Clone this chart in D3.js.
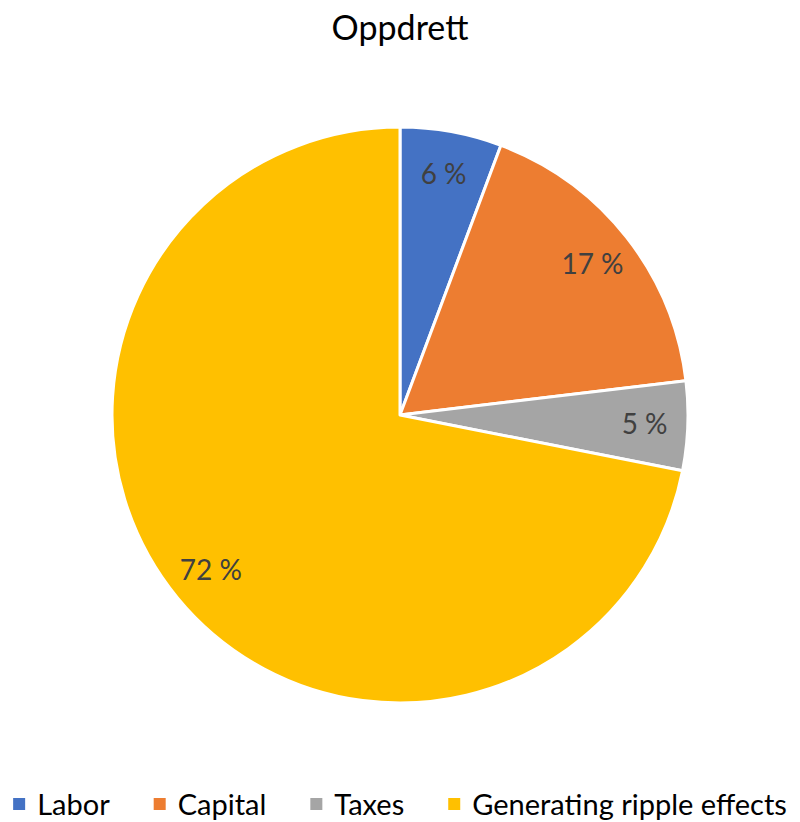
<!DOCTYPE html>
<html lang="en">
<head>
  <meta charset="UTF-8" />
  <title>Oppdrett</title>
  <style>
    body { margin: 0; background: #fff; font-family: Lato, "Open Sans", sans-serif; }
  </style>
</head>
<body>
  <div id="chart"></div>

  <script src="https://cdnjs.cloudflare.com/ajax/libs/d3/7.8.4/d3.min.js"></script>
  <script>
    const categories = ["Labor", "Capital", "Taxes", "Generating ripple effects"];
    const shares = [5.7, 17.4, 5.0, 71.9];
    const colors = ["#4472c4", "#ed7d31", "#a5a5a5", "#ffc000"];

    const width = 800, height = 822;
    const cx = 400, cy = 415, radius = 288;

    const svg = d3.select("#chart").append("svg")
      .attr("width", width).attr("height", height);

    svg.append("text")
      .attr("x", width / 2).attr("y", 40)
      .attr("text-anchor", "middle")
      .attr("font-size", 34)
      .attr("fill", "#000")
      .text("Oppdrett");

    const data = categories.map((c, i) => ({ name: c, value: shares[i], color: colors[i] }));

    const pie = d3.pie().value(d => d.value).sort(null);
    const arc = d3.arc().innerRadius(0).outerRadius(radius);
    const labelArc = d3.arc().innerRadius(radius * 0.85).outerRadius(radius * 0.85);

    const g = svg.append("g").attr("transform", `translate(${cx},${cy})`);
    const arcs = pie(data);

    g.selectAll("path")
      .data(arcs)
      .enter().append("path")
      .attr("d", arc)
      .attr("fill", d => d.data.color)
      .attr("stroke", "#fff")
      .attr("stroke-width", 3)
      .attr("stroke-linejoin", "round");

    g.selectAll("text.lbl")
      .data(arcs)
      .enter().append("text")
      .attr("class", "lbl")
      .attr("transform", d => `translate(${labelArc.centroid(d)})`)
      .attr("text-anchor", "middle")
      .attr("dy", "0.35em")
      .attr("font-size", 28)
      .attr("fill", "#404040")
      .text(d => `${Math.round(d.data.value)} %`);

    // legend, laid out by measured text width and centred
    const legend = svg.append("g");
    const sw = 12, gapText = 12, gapItem = 44;
    let x = 0;
    data.forEach(d => {
      const item = legend.append("g").attr("transform", `translate(${x},0)`);
      item.append("rect")
        .attr("x", 0).attr("y", -sw / 2 - 1)
        .attr("width", sw).attr("height", sw)
        .attr("fill", d.color);
      const t = item.append("text")
        .attr("x", sw + gapText).attr("dy", "0.35em")
        .attr("font-size", 29)
        .attr("fill", "#000")
        .text(d.name);
      x += sw + gapText + t.node().getComputedTextLength() + gapItem;
    });
    const total = x - gapItem;
    legend.attr("transform", `translate(${(width - total) / 2},805)`);
  </script>
</body>
</html>
